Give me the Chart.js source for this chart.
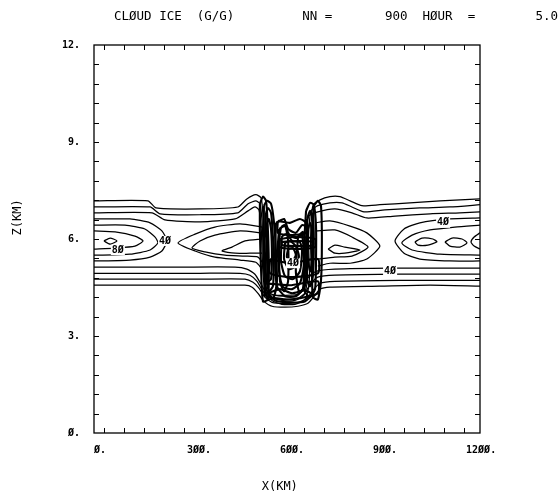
<!DOCTYPE html>
<html><head><meta charset="utf-8">
<script src="https://cdn.jsdelivr.net/npm/chart.js@4.4.1/dist/chart.umd.min.js"></script>
<style>html,body{margin:0;padding:0;background:#fff;}canvas{display:block;}</style>
</head><body>
<canvas id="c" width="558" height="501"></canvas>
<script>
// Axis ticks
const xTickValues = [0, 300, 600, 900, 1200];
const yTickValues = [0, 3, 6, 9, 12];

// Contour lines, [x (km), z (km)]
const topLine1 = [[0,7.18],[174,7.18],[200,6.96],[342,6.93],[464,6.99],[493,7.24],[522,7.37],[539,7.27],[545,6.71],[548,5.78],[551,5.00],[558,4.38],[574,4.10],[606,3.98],[648,3.98],[680,4.13],[693,4.54],[697,5.47],[700,6.40],[706,7.03],[729,7.21],[761,7.31],[793,7.31],[826,7.18],[864,7.03],[922,7.06],[1019,7.12],[1116,7.18],[1245,7.24]];
const topLine2 = [[0,6.99],[181,6.99],[213,6.78],[342,6.75],[464,6.81],[497,7.09],[522,7.18],[535,7.09],[542,6.56],[545,5.78],[548,5.00],[555,4.45],[574,4.20],[606,4.10],[648,4.10],[677,4.26],[687,4.63],[690,5.47],[693,6.31],[700,6.87],[722,7.03],[761,7.12],[800,7.12],[832,6.99],[871,6.84],[938,6.90],[1051,6.96],[1148,6.99],[1245,7.06]];
const topLine3 = [[0,6.81],[187,6.81],[229,6.59],[342,6.53],[455,6.62],[497,6.87],[519,6.99],[532,6.90],[539,6.40],[542,5.63],[545,4.94],[551,4.48],[574,4.29],[606,4.23],[648,4.23],[671,4.38],[680,4.76],[684,5.47],[687,6.25],[693,6.71],[722,6.84],[777,6.93],[832,6.81],[880,6.65],[971,6.71],[1084,6.78],[1180,6.81],[1245,6.84]];
const bottomLine1 = [[0,4.57],[342,4.57],[487,4.57],[510,4.51],[529,4.32],[548,4.07],[574,3.92],[616,3.89],[658,3.92],[690,4.01],[713,4.26],[729,4.45],[761,4.51],[922,4.54],[1084,4.57],[1245,4.54]];
const bottomLine2 = [[0,4.76],[342,4.76],[487,4.76],[513,4.66],[532,4.48],[551,4.20],[574,4.04],[616,4.01],[658,4.04],[687,4.17],[706,4.41],[729,4.63],[777,4.69],[987,4.72],[1245,4.72]];
const bottomLine3 = [[0,4.94],[342,4.94],[471,4.94],[503,4.88],[526,4.69],[545,4.38],[568,4.17],[616,4.13],[658,4.17],[680,4.32],[697,4.60],[722,4.82],[777,4.88],[987,4.91],[1245,4.91]];
const bottomLine4 = [[0,5.13],[277,5.13],[455,5.13],[493,5.07],[519,4.91],[539,4.60],[561,4.29],[616,4.26],[655,4.29],[674,4.48],[687,4.76],[716,5.00],[777,5.07],[955,5.10],[1245,5.10]];
const leftLoop1 = [[0,6.62],[116,6.62],[181,6.50],[219,6.25],[235,5.94],[219,5.63],[181,5.44],[116,5.35],[0,5.32]];
const leftLoop2 = [[0,6.43],[100,6.43],[164,6.31],[197,6.06],[206,5.88],[181,5.66],[116,5.53],[0,5.50]];
const leftLoop3 = [[0,6.25],[68,6.22],[132,6.09],[158,5.94],[132,5.78],[68,5.72],[0,5.69]];
const leftPeak = [[32,5.94],[52,6.03],[74,5.94],[52,5.84],[32,5.94]];
const leftWedge1 = [[542,6.37],[471,6.47],[390,6.37],[326,6.15],[271,5.88],[326,5.63],[390,5.44],[471,5.35],[522,5.28],[542,5.07]];
const leftWedge2 = [[542,6.19],[471,6.25],[390,6.12],[342,5.94],[316,5.72],[358,5.60],[422,5.50],[487,5.47],[529,5.44],[545,5.25]];
const leftWedge3 = [[542,6.00],[487,5.94],[445,5.75],[413,5.63],[455,5.56],[503,5.56],[542,5.56]];
const rightLoop1 = [[1245,6.65],[1148,6.62],[1051,6.50],[1000,6.31],[971,5.94],[1000,5.56],[1051,5.38],[1148,5.32],[1245,5.32]];
const rightLoop2 = [[1245,6.43],[1164,6.37],[1084,6.28],[1026,6.12],[993,5.88],[1026,5.66],[1116,5.53],[1245,5.50]];
const rightLoop3 = [[1245,6.19],[1226,6.06],[1216,5.91],[1226,5.78],[1245,5.69]];
const rightCellA = [[1035,5.91],[1058,6.03],[1093,6.00],[1106,5.91],[1077,5.81],[1045,5.81],[1035,5.91]];
const rightCellB = [[1132,5.91],[1155,6.03],[1187,6.00],[1203,5.88],[1180,5.75],[1148,5.78],[1132,5.91]];
const rightWedge1 = [[713,6.50],[761,6.56],[826,6.40],[880,6.19],[922,5.78],[880,5.38],[826,5.25],[761,5.25],[722,5.16]];
const rightWedge2 = [[716,6.25],[777,6.28],[832,6.06],[884,5.75],[832,5.47],[777,5.44],[722,5.38]];
const rightWedge3 = [[755,5.69],[777,5.81],[809,5.75],[858,5.66],[809,5.56],[777,5.56],[755,5.69]];
const core1 = [[548,7.03],[558,7.18],[571,7.09],[580,6.56],[587,5.63],[590,4.69],[580,4.20],[561,4.13],[551,4.54],[548,5.63],[548,7.03]];
const core2 = [[555,6.81],[561,6.96],[571,6.81],[577,6.09],[580,5.32],[577,4.54],[564,4.38],[555,4.85],[551,5.94],[555,6.81]];
const core3 = [[558,6.50],[564,6.62],[571,6.31],[574,5.47],[571,4.76],[561,4.69],[558,5.47],[558,6.50]];
const core4 = [[684,6.87],[697,7.12],[709,7.06],[716,6.40],[716,5.32],[713,4.45],[697,4.20],[680,4.38],[677,5.32],[680,6.25],[684,6.87]];
const core5 = [[687,6.62],[697,6.87],[706,6.71],[709,5.94],[706,4.85],[697,4.54],[687,4.76],[684,5.63],[687,6.62]];
const core6 = [[690,6.31],[697,6.50],[703,6.25],[703,5.32],[697,5.00],[690,5.38],[690,6.31]];
const core7 = [[587,6.50],[613,6.62],[626,6.31],[651,6.19],[671,6.43],[687,6.37],[687,5.32],[680,4.54],[651,4.23],[616,4.23],[590,4.54],[584,5.47],[587,6.50]];
const core8 = [[597,6.31],[616,6.40],[629,6.15],[651,6.03],[674,6.22],[680,5.94],[677,5.16],[664,4.63],[639,4.45],[610,4.51],[597,5.00],[593,5.78],[597,6.31]];
const core9 = [[606,6.09],[622,6.15],[639,5.94],[664,5.91],[671,5.63],[664,5.00],[642,4.76],[616,4.85],[603,5.32],[606,6.09]];
const core10 = [[616,5.88],[632,5.94],[651,5.78],[661,5.47],[651,5.16],[629,5.07],[613,5.38],[616,5.88]];
const core11 = [[626,5.69],[642,5.72],[651,5.50],[639,5.32],[622,5.44],[626,5.69]];
const core12 = [[600,6.00],[648,6.06],[713,6.00],[713,5.75],[648,5.69],[600,5.75],[600,6.00]];
const core13 = [[606,5.91],[664,5.94],[706,5.91],[706,5.81],[664,5.78],[606,5.81],[606,5.91]];
const core14 = [[561,4.32],[600,4.45],[639,4.32],[680,4.41],[703,4.29],[680,4.07],[632,4.04],[584,4.10],[561,4.32]];
const core15 = [[593,6.56],[632,6.50],[664,6.62],[684,6.50],[684,6.19],[632,6.12],[593,6.19],[593,6.56]];
const core16 = [[568,5.38],[632,5.25],[722,5.38],[722,4.94],[632,4.82],[568,4.94],[568,5.38]];
const core17 = [[603,6.37],[616,6.43],[626,5.94],[626,4.69],[613,4.38],[600,4.69],[597,5.94],[603,6.37]];
const core18 = [[658,6.06],[671,6.12],[677,5.32],[674,4.45],[661,4.38],[651,5.00],[658,6.06]];
const core19 = [[551,4.63],[632,4.57],[722,4.69],[722,4.32],[632,4.13],[551,4.26],[551,4.63]];
const core20 = [[535,7.09],[545,7.31],[555,7.18],[561,6.25],[564,5.00],[561,4.13],[545,4.07],[539,5.00],[535,6.25],[535,7.09]];
const core21 = [[709,7.03],[722,7.18],[732,7.03],[735,5.94],[732,4.69],[722,4.13],[706,4.20],[703,5.32],[706,6.40],[709,7.03]];

const bandContours = [topLine1, topLine2, topLine3, bottomLine1, bottomLine2, bottomLine3, bottomLine4,
  leftLoop1, leftLoop2, leftLoop3, leftPeak, leftWedge1, leftWedge2, leftWedge3,
  rightLoop1, rightLoop2, rightLoop3, rightCellA, rightCellB, rightWedge1, rightWedge2, rightWedge3];
const coreContours = [core1, core2, core3, core4, core5, core6, core7, core8, core9, core10, core11,
  core12, core13, core14, core15, core16, core17, core18, core19, core20, core21];

// Contour labels
const labelText = ['8Ø', '4Ø', '4Ø', '4Ø', '4Ø'];
const labelX = [77, 229, 1126, 955, 642];
const labelZ = [5.66, 5.94, 6.50, 5.00, 5.25];

const MONO = '"DejaVu Sans Mono", "Liberation Mono", monospace';
function fmtTick(v) { return String(v).replace(/0/g, 'Ø') + '.'; }

const framePlugin = {
  id: 'frame',
  afterDatasetsDraw(chart) {
    const { ctx, chartArea: a, scales } = chart;
    const x = scales.x, y = scales.y;
    ctx.save();
    ctx.strokeStyle = '#000';
    ctx.lineWidth = 1.3;
    ctx.strokeRect(a.left, a.top, a.right - a.left, a.bottom - a.top);
    ctx.beginPath();
    ctx.lineWidth = 1;
    for (let v = 31; v < 1245; v += 64.5) {
      const px = Math.round(x.getPixelForValue(v)) + 0.5;
      ctx.moveTo(px, a.bottom); ctx.lineTo(px, a.bottom - 5);
      ctx.moveTo(px, a.top); ctx.lineTo(px, a.top + 5);
    }
    for (let v = 0.6; v < 11.9; v += 0.6) {
      const py = Math.round(y.getPixelForValue(v)) + 0.5;
      ctx.moveTo(a.left, py); ctx.lineTo(a.left + 5, py);
      ctx.moveTo(a.right, py); ctx.lineTo(a.right - 5, py);
    }
    ctx.stroke();
    ctx.font = 'bold 10px ' + MONO;
    ctx.textAlign = 'center';
    ctx.textBaseline = 'middle';
    for (let i = 0; i < labelText.length; i++) {
      const px = x.getPixelForValue(labelX[i]);
      const py = y.getPixelForValue(labelZ[i]);
      const w = ctx.measureText(labelText[i]).width;
      ctx.fillStyle = '#fff';
      ctx.fillRect(px - w / 2 - 1, py - 5, w + 2, 10);
      ctx.fillStyle = '#000';
      ctx.fillText(labelText[i], px, py);
    }
    ctx.restore();
  }
};

function lineSet(c, width) {
  return { data: c.map(p => ({ x: p[0], y: p[1] })), showLine: true, pointRadius: 0,
    borderColor: '#000', borderWidth: width, tension: 0.2, fill: false };
}

new Chart(document.getElementById('c'), {
  type: 'scatter',
  data: {
    datasets: bandContours.map(c => lineSet(c, 1.25)).concat(coreContours.map(c => lineSet(c, 2.1)))
  },
  options: {
    responsive: false, animation: false, devicePixelRatio: 1,
    layout: { padding: 0 },
    plugins: {
      legend: { display: false },
      tooltip: { enabled: false },
      title: {
        display: true,
        text: 'CLØUD ICE  (G/G)         NN =       900  HØUR  =        5.0',
        align: 'end', color: '#000',
        font: { family: MONO, size: 12.5, weight: 'normal', lineHeight: 1.2 },
        padding: { top: 9.5, bottom: 20.5 }
      }
    },
    scales: {
      x: {
        type: 'linear', min: 0, max: 1245, position: 'bottom',
        grid: { display: false, drawTicks: false }, border: { display: false },
        afterBuildTicks: s => { s.ticks = xTickValues.map(v => ({ value: v })); },
        afterFit: s => { s.height = 68; },
        ticks: { align: 'start', padding: 11, color: '#000', maxRotation: 0, autoSkip: false,
          font: { family: MONO, size: 10, weight: 'bold' }, callback: v => fmtTick(v) },
        title: { display: true, text: 'X(KM)  ', color: '#000',
          font: { family: MONO, size: 12 }, padding: { top: 0, bottom: 7 } }
      },
      y: {
        type: 'linear', min: 0, max: 12, position: 'left',
        grid: { display: false, drawTicks: false }, border: { display: false },
        afterBuildTicks: s => { s.ticks = yTickValues.map(v => ({ value: v })); },
        afterFit: s => { s.width = 94; },
        ticks: { padding: 14, color: '#000', autoSkip: false,
          font: { family: MONO, size: 10, weight: 'bold' }, callback: v => fmtTick(v) },
        title: { display: true, text: '      Z(KM)', color: '#000',
          font: { family: MONO, size: 12 }, padding: { top: 11, bottom: 0 } }
      },
      y2: {
        type: 'linear', min: 0, max: 1, position: 'right', display: true,
        grid: { display: false, drawTicks: false }, border: { display: false },
        ticks: { display: false },
        afterFit: s => { s.width = 78; }
      }
    }
  },
  plugins: [framePlugin]
});
</script>
</body></html>
